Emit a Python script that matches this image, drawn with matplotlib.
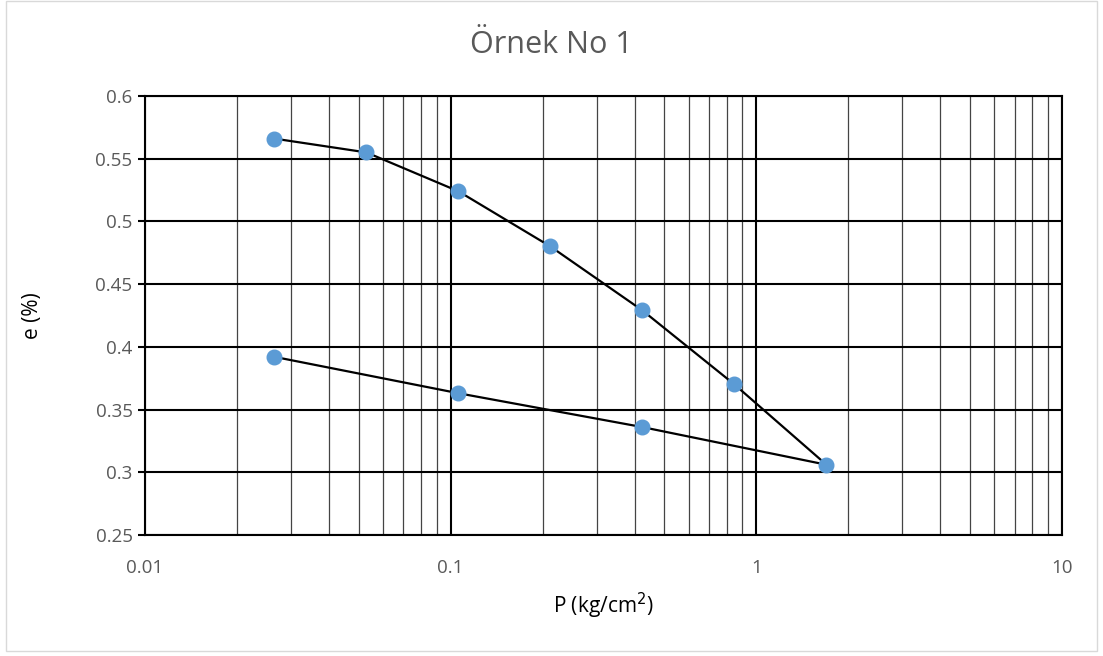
import matplotlib
matplotlib.use("Agg")
import matplotlib.pyplot as plt
import matplotlib.patches as patches
from matplotlib.ticker import LogLocator, FixedLocator, NullFormatter

# loading then unloading path
pressure = [0.0265, 0.053, 0.106, 0.212, 0.424, 0.848, 1.696, 0.424, 0.106, 0.0265]
void_ratio = [0.566, 0.555, 0.524, 0.480, 0.429, 0.370, 0.306, 0.336, 0.363, 0.392]

x_ticks = [0.01, 0.1, 1, 10]
x_labels = ["0.01", "0.1", "1", "10"]
y_ticks = [0.25, 0.3, 0.35, 0.4, 0.45, 0.5, 0.55, 0.6]
y_labels = ["0.25", "0.3", "0.35", "0.4", "0.45", "0.5", "0.55", "0.6"]

plt.rcParams["font.family"] = ["Open Sans", "DejaVu Sans"]
grey = "#595959"

fig = plt.figure(figsize=(11.03, 6.56), dpi=100)
ax = fig.add_axes([0.1315, 0.1845, 0.8313, 0.6692])

# outer chart border
fig.patches.append(patches.Rectangle((0.005, 0.008), 0.99, 0.99, transform=fig.transFigure,
                                     fill=False, edgecolor="#d9d9d9", lw=1))

ax.set_xscale("log")
ax.set_xlim(0.01, 10)
ax.set_ylim(0.25, 0.6)

ax.xaxis.set_major_locator(FixedLocator(x_ticks))
ax.set_xticklabels(x_labels)
ax.xaxis.set_minor_locator(LogLocator(base=10, subs=range(2, 10)))
ax.xaxis.set_minor_formatter(NullFormatter())
ax.set_yticks(y_ticks)
ax.set_yticklabels(y_labels)

ax.grid(which="major", axis="x", color="black", lw=1.5)
ax.grid(which="minor", axis="x", color="#444444", lw=0.9)
ax.grid(which="major", axis="y", color="black", lw=1.5)
ax.set_axisbelow(True)

for s in ax.spines.values():
    s.set_color("black")
    s.set_linewidth(1.5)

ax.tick_params(axis="x", which="both", length=0, labelsize=13.5, labelcolor=grey, pad=17)
ax.tick_params(axis="y", length=5, width=1.5, labelsize=13.5, labelcolor=grey, pad=4)

ax.plot(pressure, void_ratio, color="black", lw=1.6, marker="o", markersize=10.5,
        markerfacecolor="#5b9bd5", markeredgecolor="#5b9bd5", zorder=3)

fig.text(0.5, 0.932, "Örnek No 1", fontsize=22, color=grey, ha="center", va="center")
ax.set_xlabel("P (kg/cm$^2$)", fontsize=15, color="black", labelpad=10)
ax.set_ylabel("e (%)", fontsize=15, color="black", labelpad=38)

fig.savefig("out.png", dpi=100)
